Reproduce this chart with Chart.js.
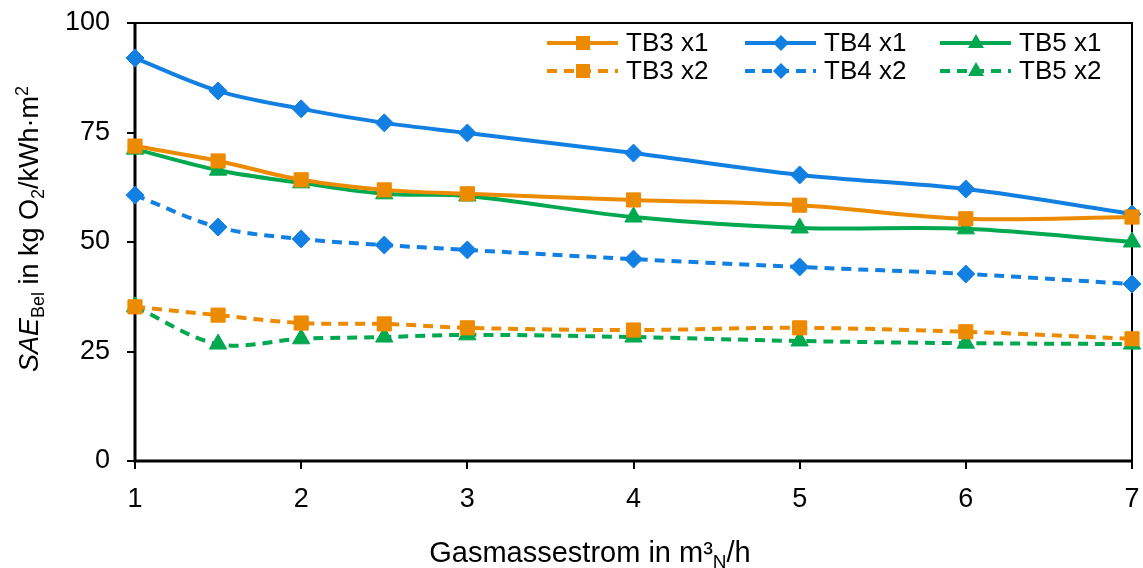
<!DOCTYPE html>
<html lang="de">
<head>
    <meta charset="UTF-8">
    <title>SAE Bel</title>
    <script src="https://cdn.jsdelivr.net/npm/chart.js"></script>
    <style>
        html, body { margin: 0; padding: 0; background: #fff; }
        #wrap { width: 1143px; height: 568px; }
    </style>
</head>
<body>
    <div id="wrap"><canvas id="saeChart" width="1143" height="568"></canvas></div>

    <script>
        // Gasmassestrom in m³N/h
        const gasFlow = [1, 1.5, 2, 2.5, 3, 4, 5, 6, 7];

        // SAE_Bel in kg O2/kWh·m2
        const tb3x1 = [71.9, 68.5, 64.2, 61.9, 61.0, 59.6, 58.4, 55.3, 55.7];
        const tb4x1 = [92.0, 84.5, 80.4, 77.2, 74.9, 70.3, 65.3, 62.1, 56.4];
        const tb5x1 = [71.2, 66.4, 63.5, 61.0, 60.5, 55.7, 53.2, 53.0, 50.0];
        const tb3x2 = [35.2, 33.3, 31.5, 31.3, 30.4, 29.9, 30.4, 29.5, 27.9];
        const tb4x2 = [60.7, 53.4, 50.7, 49.3, 48.2, 46.1, 44.3, 42.7, 40.4];
        const tb5x2 = [35.2, 26.7, 27.9, 28.3, 28.8, 28.3, 27.4, 26.9, 26.7];

        const xTicks = [1, 2, 3, 4, 5, 6, 7];
        const yTicks = [0, 25, 50, 75, 100];

        const ORANGE = 'rgb(237, 139, 0)';
        const BLUE = 'rgb(18, 128, 226)';
        const GREEN = 'rgb(0, 168, 80)';
        const DASH = [10, 7];
        const FONT = '"Liberation Sans", Arial, sans-serif';

        Chart.defaults.font.family = FONT;
        Chart.defaults.font.size = 27;
        Chart.defaults.color = '#000';

        function pts(values) {
            return values.map((v, i) => ({ x: gasFlow[i], y: v }));
        }

        function series(label, values, color, style, radius, dashed) {
            return {
                label: label,
                data: pts(values),
                borderColor: color,
                backgroundColor: color,
                borderWidth: 4,
                borderDash: dashed ? DASH : [],
                pointStyle: style,
                pointRadius: radius,
                pointHoverRadius: radius,
                pointBackgroundColor: color,
                pointBorderColor: color,
                pointBorderWidth: 1,
                tension: 0.35,
                clip: false
            };
        }

        // draws text pieces with italic / sub / sup parts, centred on x
        function richText(ctx, parts, cx, baseY, size) {
            const small = Math.round(size * 0.65);
            const fontOf = p => (p.italic ? 'italic ' : '') + (p.sub || p.sup ? small : size) + 'px ' + FONT;
            let total = 0;
            parts.forEach(p => { ctx.font = fontOf(p); total += ctx.measureText(p.t).width; });
            let x = cx - total / 2;
            ctx.textAlign = 'left';
            ctx.textBaseline = 'alphabetic';
            parts.forEach(p => {
                ctx.font = fontOf(p);
                let y = baseY;
                if (p.sub) y += size * 0.22;
                if (p.sup) y -= size * 0.38;
                ctx.fillText(p.t, x, y);
                x += ctx.measureText(p.t).width;
            });
        }

        const framePlugin = {
            id: 'frame',
            beforeDatasetsDraw(chart) {
                const { ctx, chartArea: a } = chart;
                ctx.save();
                ctx.strokeStyle = '#000';
                ctx.lineWidth = 2;
                ctx.beginPath();
                ctx.moveTo(a.left, a.top);
                ctx.lineTo(a.right, a.top);
                ctx.lineTo(a.right, a.bottom);
                ctx.stroke();
                ctx.lineWidth = 3;
                ctx.beginPath();
                ctx.moveTo(a.left, a.top);
                ctx.lineTo(a.left, a.bottom);
                ctx.lineTo(a.right, a.bottom);
                ctx.stroke();
                ctx.restore();
            }
        };

        function drawMarker(ctx, style, x, y, color) {
            ctx.fillStyle = color;
            ctx.beginPath();
            if (style === 'rect') {
                ctx.rect(x - 7, y - 7, 14, 14);
            } else if (style === 'rectRot') {
                ctx.moveTo(x, y - 8);
                ctx.lineTo(x + 8, y);
                ctx.lineTo(x, y + 8);
                ctx.lineTo(x - 8, y);
                ctx.closePath();
            } else {
                ctx.moveTo(x, y - 9);
                ctx.lineTo(x + 8, y + 5);
                ctx.lineTo(x - 8, y + 5);
                ctx.closePath();
            }
            ctx.fill();
        }

        const legendPlugin = {
            id: 'gridLegend',
            afterDraw(chart) {
                const { ctx, chartArea: a } = chart;
                const colStart = [585, 387, 192];
                const rowY = [43, 71];
                ctx.save();
                chart.data.datasets.forEach((ds, i) => {
                    const x0 = a.right - colStart[i % 3];
                    const y = rowY[Math.floor(i / 3)];
                    ctx.strokeStyle = ds.borderColor;
                    ctx.lineWidth = 4;
                    ctx.setLineDash(ds.borderDash);
                    ctx.beginPath();
                    ctx.moveTo(x0, y);
                    ctx.lineTo(x0 + 71, y);
                    ctx.stroke();
                    ctx.setLineDash([]);
                    drawMarker(ctx, ds.pointStyle, x0 + 36, y, ds.borderColor);
                    ctx.fillStyle = '#000';
                    ctx.font = '26px ' + FONT;
                    ctx.textAlign = 'left';
                    ctx.textBaseline = 'middle';
                    ctx.fillText(ds.label, x0 + 79, y + 1);
                });
                ctx.restore();
            }
        };

        const titlesPlugin = {
            id: 'axisTitles',
            afterDraw(chart) {
                const ctx = chart.ctx;
                ctx.save();
                ctx.fillStyle = '#000';
                richText(ctx, [
                    { t: 'Gasmassestrom in m' }, { t: '³' }, { t: 'N', sub: true }, { t: '/h' }
                ], 590, 562, 29);
                ctx.translate(38, 229);
                ctx.rotate(-Math.PI / 2);
                richText(ctx, [
                    { t: 'SAE', italic: true }, { t: 'Bel', sub: true }, { t: ' in kg O' },
                    { t: '2', sub: true }, { t: '/kWh·m' }, { t: '2', sup: true }
                ], 0, 0, 27);
                ctx.restore();
            }
        };

        const ctx = document.getElementById('saeChart').getContext('2d');
        const saeChart = new Chart(ctx, {
            type: 'line',
            data: {
                datasets: [
                    series('TB3 x1', tb3x1, ORANGE, 'rect', 10, false),
                    series('TB4 x1', tb4x1, BLUE, 'rectRot', 9, false),
                    series('TB5 x1', tb5x1, GREEN, 'triangle', 10, false),
                    series('TB3 x2', tb3x2, ORANGE, 'rect', 10, true),
                    series('TB4 x2', tb4x2, BLUE, 'rectRot', 9, true),
                    series('TB5 x2', tb5x2, GREEN, 'triangle', 10, true)
                ]
            },
            options: {
                responsive: false,
                animation: false,
                layout: { padding: { top: 23, right: 5, left: 0, bottom: 0 } },
                plugins: {
                    legend: { display: false },
                    tooltip: { enabled: false }
                },
                scales: {
                    x: {
                        type: 'linear',
                        min: 1,
                        max: 7,
                        afterBuildTicks: s => { s.ticks = xTicks.map(v => ({ value: v })); },
                        afterFit: s => { s.height = 107; s.paddingLeft = 0; s.paddingRight = 0; },
                        ticks: { padding: 14, font: { size: 27 } },
                        grid: { drawOnChartArea: false, tickLength: 8, color: '#000', lineWidth: 2 },
                        border: { display: false }
                    },
                    y: {
                        min: 0,
                        max: 100,
                        afterBuildTicks: s => { s.ticks = yTicks.map(v => ({ value: v })); },
                        afterFit: s => { s.width = 135; s.paddingTop = 0; s.paddingBottom = 0; },
                        ticks: { padding: 17, font: { size: 27 } },
                        grid: { drawOnChartArea: false, tickLength: 8, color: '#000', lineWidth: 2 },
                        border: { display: false }
                    }
                }
            },
            plugins: [framePlugin, legendPlugin, titlesPlugin]
        });
    </script>
</body>
</html>
